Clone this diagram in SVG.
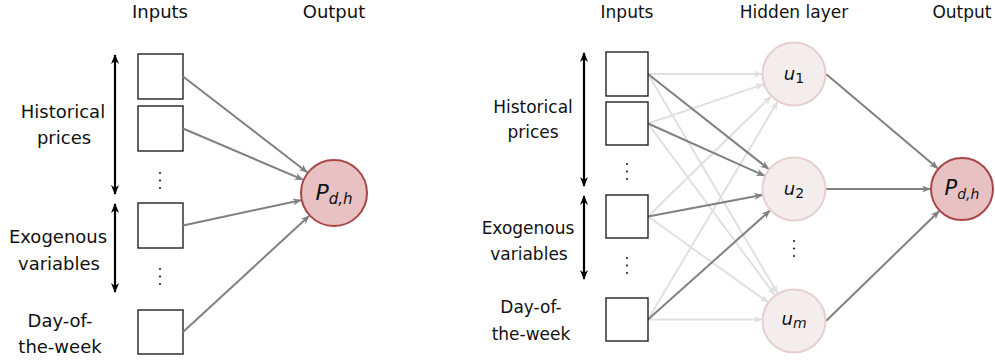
<svg xmlns="http://www.w3.org/2000/svg" width="995" height="363" viewBox="0 0 995 363">
<style>
text{font-family:"DejaVu Sans","Liberation Sans",sans-serif;fill:#111;text-anchor:middle}
.t{font-size:18px}
.tr{font-size:17px}
.box{fill:#fff;stroke:#222;stroke-width:1.4}
.dk{stroke:#808080;stroke-width:2;fill:none}
.lt{stroke:#e0e0e0;stroke-width:2;fill:none}
.bk{stroke:#000;stroke-width:2.2;fill:none}
.hid{fill:#f4eded;stroke:#e6cfcf;stroke-width:2}
.out{fill:#e8c2c2;stroke:#a84646;stroke-width:2}
.m{font-style:italic}
.dot{fill:#222}
</style>
<defs>
<marker id="ad" viewBox="0 0 10 10" refX="9" refY="5" markerWidth="9" markerHeight="9" orient="auto" markerUnits="userSpaceOnUse">
<path d="M0,1 L10,5 L0,9 L3,5 Z" fill="#808080"/>
</marker>
<marker id="al" viewBox="0 0 10 10" refX="9" refY="5" markerWidth="9" markerHeight="9" orient="auto" markerUnits="userSpaceOnUse">
<path d="M0,1 L10,5 L0,9 L3,5 Z" fill="#e0e0e0"/>
</marker>
<marker id="ab" viewBox="0 0 10 10" refX="9" refY="5" markerWidth="10" markerHeight="10" orient="auto-start-reverse" markerUnits="userSpaceOnUse">
<path d="M0,1 L10,5 L0,9 L3,5 Z" fill="#000"/>
</marker>
</defs>

<!-- Left panel -->
<g id="left-titles">
<text class="t" x="160" y="18">Inputs</text>
<text class="t" x="334" y="18">Output</text>
</g>
<g id="left-labels">
<text class="t" x="63" y="118">Historical</text>
<text class="t" x="64" y="144">prices</text>
<text class="t" x="58" y="243">Exogenous</text>
<text class="t" x="59" y="270">variables</text>
<text class="t" x="60" y="327">Day-of-</text>
<text class="t" x="60" y="353">the-week</text>
</g>
<g id="left-in1"><rect class="box" x="138" y="54" width="45" height="45"/></g>
<g id="left-in2"><rect class="box" x="138" y="106" width="45" height="45"/></g>
<g id="left-in3"><rect class="box" x="138" y="203" width="45" height="45"/></g>
<g id="left-in4"><rect class="box" x="138" y="310" width="45" height="44"/></g>
<g id="left-dots">
<circle class="dot" cx="160" cy="173" r="1.1"/><circle class="dot" cx="160" cy="180.5" r="1.1"/><circle class="dot" cx="160" cy="188" r="1.1"/>
<circle class="dot" cx="160" cy="269" r="1.1"/><circle class="dot" cx="160" cy="276.5" r="1.1"/><circle class="dot" cx="160" cy="284" r="1.1"/>
</g>
<g id="left-out">
<circle class="out" cx="334" cy="193" r="33"/>
<text class="m" x="334" y="200" font-size="22"><tspan>P</tspan><tspan font-size="15" dy="4">d,h</tspan></text>
</g>
<g id="left-connectors">
<line class="bk" x1="115" y1="55" x2="115" y2="194" marker-start="url(#ab)" marker-end="url(#ab)"/>
<line class="bk" x1="115" y1="204" x2="115" y2="292" marker-start="url(#ab)" marker-end="url(#ab)"/>
<line class="dk" x1="183" y1="76.5" x2="307.1" y2="172.2" marker-end="url(#ad)"/>
<line class="dk" x1="183" y1="128.5" x2="302.7" y2="179.6" marker-end="url(#ad)"/>
<line class="dk" x1="183" y1="225.5" x2="300.8" y2="200.2" marker-end="url(#ad)"/>
<line class="dk" x1="183" y1="332" x2="309" y2="216" marker-end="url(#ad)"/>
</g>

<!-- Right panel -->
<g id="right-titles">
<text class="tr" x="627" y="18">Inputs</text>
<text class="tr" x="794" y="18">Hidden layer</text>
<text class="tr" x="962" y="18">Output</text>
</g>
<g id="right-labels">
<text class="tr" x="533" y="113">Historical</text>
<text class="tr" x="533" y="138">prices</text>
<text class="tr" x="528" y="234">Exogenous</text>
<text class="tr" x="529" y="260">variables</text>
<text class="tr" x="531" y="313">Day-of-</text>
<text class="tr" x="531" y="340">the-week</text>
</g>
<g id="right-connectors">
<line class="lt" x1="648" y1="74" x2="761.5" y2="74" marker-end="url(#al)"/>
<line class="lt" x1="648" y1="74" x2="777.5" y2="293" marker-end="url(#al)"/>
<line class="lt" x1="648" y1="123.5" x2="763.2" y2="84.4" marker-end="url(#al)"/>
<line class="lt" x1="648" y1="123.5" x2="774.7" y2="294.9" marker-end="url(#al)"/>
<line class="lt" x1="648" y1="216.5" x2="770.7" y2="96.7" marker-end="url(#al)"/>
<line class="lt" x1="648" y1="216.5" x2="767.6" y2="302.1" marker-end="url(#al)"/>
<line class="lt" x1="648" y1="319.5" x2="777.4" y2="101.9" marker-end="url(#al)"/>
<line class="lt" x1="648" y1="319.5" x2="761.5" y2="319.5" marker-end="url(#al)"/>
<line class="dk" x1="648" y1="74" x2="768.5" y2="168.9" marker-end="url(#ad)"/>
<line class="dk" x1="648" y1="123.5" x2="764.3" y2="175.7" marker-end="url(#ad)"/>
<line class="dk" x1="648" y1="216.5" x2="762.1" y2="195" marker-end="url(#ad)"/>
<line class="dk" x1="648" y1="319.5" x2="769.8" y2="210.7" marker-end="url(#ad)"/>
<line class="dk" x1="826" y1="74" x2="937.6" y2="168.3" marker-end="url(#ad)"/>
<line class="dk" x1="826" y1="189" x2="930" y2="189" marker-end="url(#ad)"/>
<line class="dk" x1="826" y1="321" x2="939" y2="211.3" marker-end="url(#ad)"/>
<line class="bk" x1="584" y1="53" x2="584" y2="186" marker-start="url(#ab)" marker-end="url(#ab)"/>
<line class="bk" x1="584" y1="196" x2="584" y2="279" marker-start="url(#ab)" marker-end="url(#ab)"/>
</g>
<g id="right-in1"><rect class="box" x="606" y="52" width="42" height="44"/></g>
<g id="right-in2"><rect class="box" x="606" y="102" width="42" height="43"/></g>
<g id="right-in3"><rect class="box" x="606" y="195" width="42" height="43"/></g>
<g id="right-in4"><rect class="box" x="606" y="298" width="42" height="43"/></g>
<g id="right-dots">
<circle class="dot" cx="627" cy="164" r="1.1"/><circle class="dot" cx="627" cy="171.5" r="1.1"/><circle class="dot" cx="627" cy="179" r="1.1"/>
<circle class="dot" cx="627" cy="258" r="1.1"/><circle class="dot" cx="627" cy="265.5" r="1.1"/><circle class="dot" cx="627" cy="273" r="1.1"/>
<circle class="dot" cx="794" cy="241" r="1.1"/><circle class="dot" cx="794" cy="248.5" r="1.1"/><circle class="dot" cx="794" cy="256" r="1.1"/>
</g>
<g id="hidden-u1">
<circle class="hid" cx="794" cy="74" r="31.5"/>
<text class="m" x="794" y="80" font-size="18"><tspan>u</tspan><tspan font-size="14" font-style="normal" dy="3">1</tspan></text>
</g>
<g id="hidden-u2">
<circle class="hid" cx="794" cy="189" r="31.5"/>
<text class="m" x="794" y="195" font-size="18"><tspan>u</tspan><tspan font-size="14" font-style="normal" dy="3">2</tspan></text>
</g>
<g id="hidden-um">
<circle class="hid" cx="794" cy="321" r="31.5"/>
<text class="m" x="794" y="325" font-size="18"><tspan>u</tspan><tspan font-size="14" dy="3">m</tspan></text>
</g>
<g id="right-out">
<circle class="out" cx="962" cy="189" r="31"/>
<text class="m" x="962" y="195" font-size="21"><tspan>P</tspan><tspan font-size="14" dy="4">d,h</tspan></text>
</g>
</svg>
